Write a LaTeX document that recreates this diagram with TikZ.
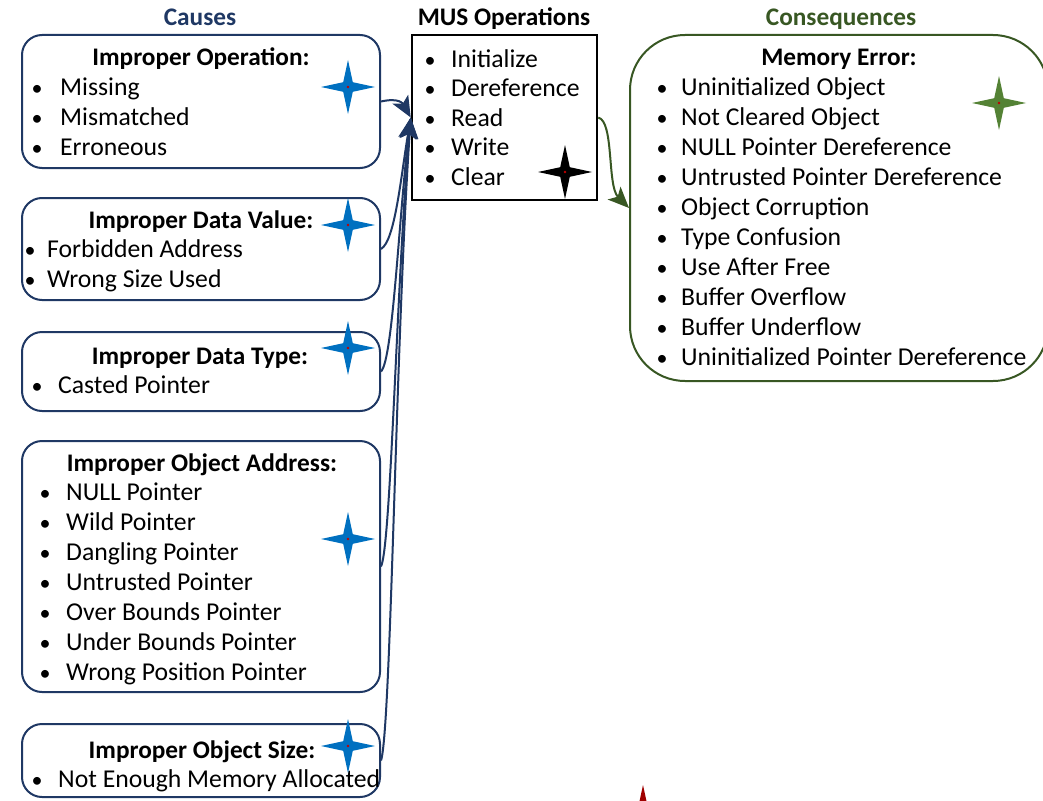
\documentclass[tikz,border=0pt]{standalone}
\usepackage{fontspec}
\setmainfont{Carlito}
\usetikzlibrary{arrows.meta}
\definecolor{causeblue}{HTML}{1F3864}
\definecolor{starblue}{HTML}{0070C0}
\definecolor{consgreen}{HTML}{385723}
\definecolor{stargreen}{HTML}{548235}
\definecolor{starred}{HTML}{A00000}
\definecolor{starcore}{HTML}{C00000}
\begin{document}
\begin{tikzpicture}[x=1pt,y=-1pt,
  txt/.style={font=\fontsize{25.7}{30}\selectfont, inner sep=0pt, anchor=base west},
  bul/.style={font=\fontsize{22}{30}\selectfont, inner sep=0pt, anchor=base},
  ttl/.style={font=\fontsize{25.3}{30}\selectfont\bfseries, inner sep=0pt, anchor=base},
  causebox/.style={draw=causeblue, line width=2pt, rounded corners=20pt, inner sep=0pt},
  feed/.style={draw=causeblue, line width=2pt, -{Stealth[length=21pt,width=18pt,inset=5pt]}},
  yield/.style={draw=consgreen, line width=2pt, -{Stealth[length=21pt,width=18pt,inset=5pt]}},
  pics/star4/.style={code={
    \fill[pic actions] (27,0) -- (4.8,4.8) -- (0,27) -- (-4.8,4.8) -- (-27,0)
      -- (-4.8,-4.8) -- (0,-27) -- (4.8,-4.8) -- cycle;
    \fill[starcore] (0,0) circle (1.3);}},
]
\useasboundingbox (0,0) rectangle (1043,800);

% column headings
\node[ttl, text=causeblue] (hcause) at (200,26) {Causes};
\node[ttl] (hmus) at (504,26) {MUS Operations};
\node[ttl, text=consgreen] (hcons) at (841,26) {Consequences};

% cause boxes
\node[causebox, minimum width=358pt, minimum height=133pt] (c1) at (201,101.5) {};
\node[causebox, minimum width=358pt, minimum height=102pt] (c2) at (201,249) {};
\node[causebox, minimum width=358pt, minimum height=79pt] (c3) at (201,371.5) {};
\node[causebox, minimum width=358pt, minimum height=251pt] (c4) at (201,566.5) {};
\node[causebox, minimum width=358pt, minimum height=73pt] (c5) at (201,760.5) {};

% operations and consequences boxes
\node[draw=black, line width=2.5pt, minimum width=185pt, minimum height=165pt, inner sep=0pt] (mus) at (504.5,117.5) {};
\node[draw=consgreen, line width=2pt, rounded corners=55pt, minimum width=418pt, minimum height=346pt, inner sep=0pt] (cons) at (839,208) {};

% box contents
\node[ttl] (t1) at (201,65) {Improper Operation:};
\foreach \t [count=\i] in {Missing,Mismatched,Erroneous}
  {\node[bul] (b1\i) at (37,95+30*\i-30) {•};
   \node[txt] (i1\i) at (60,95+30*\i-30) {\t};}

\node[ttl] (t2) at (201,228) {Improper Data Value:};
\foreach \t [count=\i] in {Forbidden Address,Wrong Size Used}
  {\node[bul] (b2\i) at (30,257+30*\i-30) {•};
   \node[txt] (i2\i) at (47,257+30*\i-30) {\t};}

\node[ttl] (t3) at (200,364) {Improper Data Type:};
\node[bul] (b31) at (37,393) {•};
\node[txt] (i31) at (58,393) {Casted Pointer};

\node[ttl] (t4) at (202,471) {Improper Object Address:};
\foreach \t [count=\i] in {NULL Pointer,Wild Pointer,Dangling Pointer,Untrusted Pointer,Over Bounds Pointer,Under Bounds Pointer,Wrong Position Pointer}
  {\node[bul] (b4\i) at (45,500+30*\i-30) {•};
   \node[txt] (i4\i) at (66,500+30*\i-30) {\t};}

\node[ttl] (t5) at (202,758) {Improper Object Size:};
\node[bul] (b51) at (37,787) {•};
\node[txt] (i51) at (58,787) {Not Enough Memory Allocated};

\foreach \t [count=\i] in {Initialize,Dereference,Read,Write,Clear}
  {\node[bul] (bm\i) at (430,67+29.5*\i-29.5) {•};
   \node[txt] (im\i) at (451,67+29.5*\i-29.5) {\t};}

\node[ttl] (tc) at (839,66) {Memory Error:};
\foreach \t [count=\i] in {Uninitialized Object,Not Cleared Object,NULL Pointer Dereference,Untrusted Pointer Dereference,Object Corruption,Type Confusion,Use After Free,Buffer Overflow,Buffer Underflow,Uninitialized Pointer Dereference}
  {\node[bul] (bc\i) at (662,95+30.1*\i-30.1) {•};
   \node[txt] (ic\i) at (681,95+30.1*\i-30.1) {\t};}

% stars
\pic[fill=starblue] at (348,87) {star4};
\pic[fill=starblue] at (348,225) {star4};
\pic[fill=starblue] at (348,348) {star4};
\pic[fill=starblue] at (348,539) {star4};
\pic[fill=starblue] at (348,746) {star4};
\pic[fill=black] at (565,172) {star4};
\pic[fill=stargreen] at (999,103) {star4};
\pic[fill=starred] at (643,812) {star4};

% connectors
\draw[feed] (c1.east) .. controls +(18,-4) and +(-8,-14) .. (mus.west);
\draw[feed] (c2.east) .. controls +(14,-8) and +(-10,60) .. (mus.west);
\draw[feed] (c3.east) .. controls +(12,-12) and +(-12,100) .. (mus.west);
\draw[feed] (c4.east) .. controls +(10,-20) and +(-14,160) .. (mus.west);
\draw[feed] (c5.east) .. controls +(10,-30) and +(-15,220) .. (mus.west);
\draw[yield] (mus.east) .. controls +(16,4) and +(-22,-22) .. (cons.west);
\end{tikzpicture}
\end{document}
